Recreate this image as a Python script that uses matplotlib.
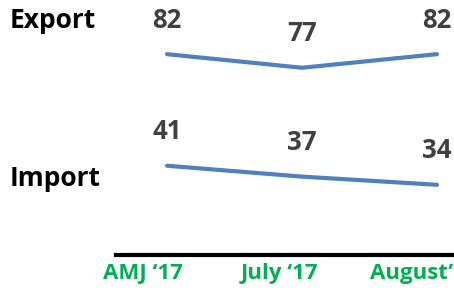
import matplotlib
matplotlib.use('Agg')
import matplotlib.pyplot as plt
import numpy as np

periods = ["AMJ \u201817", "July \u201817", "August\u2019"]
export_vals = [82, 77, 82]
import_vals = [41, 37, 34]
series_names = ["Export", "Import"]

COLOR_LINE = '#4f81bd'
COLOR_LABEL = '#404040'
COLOR_TICK = '#00b050'

plt.rcParams['font.family'] = ['Open Sans', 'DejaVu Sans']

fig = plt.figure(figsize=(4.54, 2.91), dpi=100)
ax = fig.add_axes([116 / 454, 36 / 291, 338 / 454, 255 / 291])

x = np.arange(len(periods))
for vals in [export_vals, import_vals]:
    ax.plot(x, vals, color=COLOR_LINE, lw=3, solid_capstyle='round')
    for xi, v in zip(x, vals):
        ax.annotate(str(v), (xi, v), xytext=(0, 34), textcoords='offset pixels',
                    ha='center', va='center', fontsize=18.5, fontweight='bold',
                    color=COLOR_LABEL, annotation_clip=False)

ax.set_xlim(-0.378, 2.126)
ax.set_ylim(8.2, 101.9)

for side in ['top', 'right', 'left']:
    ax.spines[side].set_visible(False)
ax.spines['bottom'].set_linewidth(3)
ax.spines['bottom'].set_color('black')
ax.set_yticks([])
ax.set_xticks([])

# period labels sit slightly left of the points
for xi, lab in zip(x, periods):
    ax.annotate(lab, (xi, 0), xycoords=('data', 'axes fraction'),
                xytext=(16, -19), textcoords='offset pixels',
                ha='right', va='center', fontsize=16, fontweight='bold',
                color=COLOR_TICK, annotation_clip=False)

fig.text(10 / 454, 1 - 21 / 291, series_names[0], ha='left', va='center',
         fontsize=19, fontweight='bold', color='black')
fig.text(10 / 454, 1 - 178 / 291, series_names[1], ha='left', va='center',
         fontsize=19, fontweight='bold', color='black')

fig.savefig('out.png', dpi=100)
